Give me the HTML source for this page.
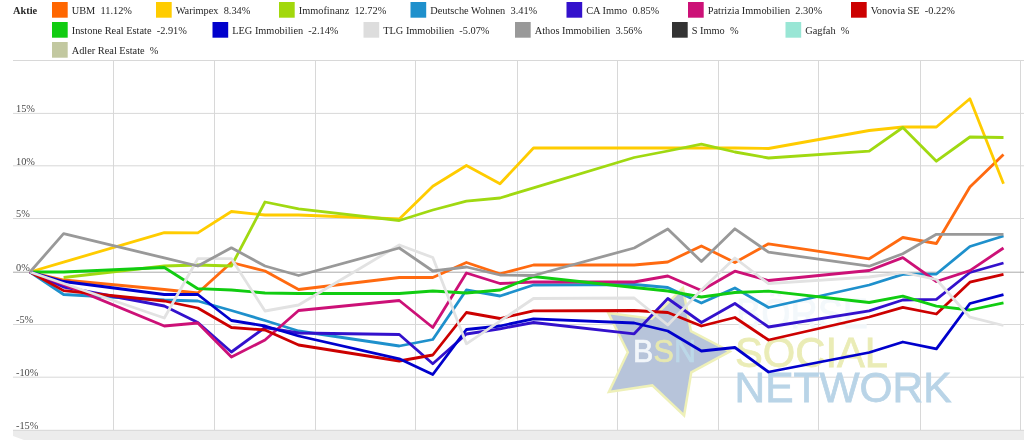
<!DOCTYPE html>
<html><head><meta charset="utf-8"><style>
html,body{margin:0;padding:0;background:#fff;}
body{width:1024px;height:440px;overflow:hidden;font-family:"Liberation Serif",serif;}
svg{display:block;position:absolute;left:0;top:0;will-change:transform;}
.leg text{font-family:"Liberation Serif",serif;font-size:10.35px;fill:#262626;}
.lab text{font-family:"Liberation Serif",serif;font-size:10.35px;fill:#4a4a4a;}
.grid line{stroke:#d8d8d8;stroke-width:1;}
.ser polyline{fill:none;stroke-width:2.8;stroke-linejoin:round;stroke-linecap:butt;}
.wm text{font-family:"Liberation Sans",sans-serif;}
</style></head><body>
<svg width="1024" height="440" viewBox="0 0 1024 440">
<rect width="1024" height="440" fill="#fff"/>
<g class="grid">
<line x1="13" y1="60.5" x2="1024" y2="60.5"/>
<line x1="113.5" y1="60" x2="113.5" y2="440"/><line x1="214.5" y1="60" x2="214.5" y2="440"/><line x1="315.5" y1="60" x2="315.5" y2="440"/><line x1="415.5" y1="60" x2="415.5" y2="440"/><line x1="517.5" y1="60" x2="517.5" y2="440"/><line x1="617.5" y1="60" x2="617.5" y2="440"/><line x1="718.5" y1="60" x2="718.5" y2="440"/><line x1="818.5" y1="60" x2="818.5" y2="440"/><line x1="920.5" y1="60" x2="920.5" y2="440"/><line x1="1020.5" y1="60" x2="1020.5" y2="440"/><line x1="13" y1="113.4" x2="1024" y2="113.4"/><line x1="13" y1="165.8" x2="1024" y2="165.8"/><line x1="13" y1="218.5" x2="1024" y2="218.5"/><line x1="13" y1="324.5" x2="1024" y2="324.5"/><line x1="13" y1="377.2" x2="1024" y2="377.2"/>
<line x1="13" y1="272.2" x2="1024" y2="272.2" style="stroke:#aaa"/>
</g>
<polygon points="13,430 1024,430 1024,440 24,440 13,436" fill="#ececec"/>
<line x1="13" y1="430.3" x2="1024" y2="430.3" stroke="#d8d8d8" stroke-width="1"/>
<g class="wm">
<polygon points="682.9,288.1 690.9,331.2 729.8,351.4 691.3,372.3 684.1,415.5 652.3,385.4 608.9,391.9 627.8,352.3 608.3,313.1 651.7,318.8" fill="#b7c4da" stroke="#eef0b8" stroke-width="2.5" stroke-linejoin="miter"/>
<text x="633" y="361.5" font-size="30.5" fill="#f2f6fa" stroke="#f2f6fa" stroke-width="0.7">B</text>
<text x="653.5" y="361.5" font-size="30.5" fill="#e6e8b0" stroke="#e6e8b0" stroke-width="0.7">S</text>
<text x="674" y="361.5" font-size="30.5" fill="#bcd8e8" stroke="#bcd8e8" stroke-width="0.7">N</text>
<text x="736" y="328" font-size="43.3" fill="#f3f8fb" stroke="#f3f8fb" stroke-width="0.8" textLength="132" lengthAdjust="spacingAndGlyphs">BÖRSE</text>
<text x="735" y="366.5" font-size="43.3" fill="#eaecb6" stroke="#eaecb6" stroke-width="0.8" textLength="153" lengthAdjust="spacingAndGlyphs">SOCIAL</text>
<text x="734.5" y="401.8" font-size="43.3" fill="#b9d4e7" stroke="#b9d4e7" stroke-width="0.8" textLength="217" lengthAdjust="spacingAndGlyphs">NETWORK</text>
</g>
<g class="lab"><text x="16" y="112.1">15%</text><text x="16" y="164.5">10%</text><text x="16" y="217.2">5%</text><text x="16" y="270.9">0%</text><text x="16" y="323.2">-5%</text><text x="16" y="375.9">-10%</text><text x="16" y="428.7">-15%</text></g>
<g class="ser">
<polyline points="30.0,272.0 63.6,280.0 164.3,289.5 197.8,293.0 231.4,262.5 265.0,271.0 298.6,289.5 399.3,277.5 432.8,277.5 466.4,262.5 500.0,273.8 533.5,265.0 634.2,265.0 667.8,262.0 701.4,246.0 734.9,262.5 768.5,243.8 869.2,258.8 902.8,237.5 936.4,243.5 969.9,187.0 1003.5,154.5" stroke="#ff6a10"/>
<polyline points="30.0,272.0 63.6,262.1 164.3,232.6 197.8,232.9 231.4,211.5 265.0,215.0 298.6,215.0 399.3,219.0 432.8,186.2 466.4,165.5 500.0,183.8 533.5,148.0 634.2,148.0 667.8,148.0 701.4,148.0 734.9,148.0 768.5,148.5 869.2,130.5 902.8,127.0 936.4,127.0 969.9,98.8 1003.5,183.8" stroke="#ffcc00"/>
<polyline points="63.6,277.5 164.3,266.0 197.8,265.0 231.4,266.0 265.0,202.0 298.6,208.8 399.3,220.5 432.8,210.0 466.4,201.2 500.0,198.0 533.5,187.8 634.2,157.5 667.8,151.0 701.4,144.2 734.9,152.0 768.5,158.0 869.2,151.2 902.8,127.5 936.4,161.2 969.9,137.0 1003.5,137.5" stroke="#a0d911"/>
<polyline points="30.0,272.0 63.6,294.5 164.3,300.0 197.8,301.0 231.4,310.5 265.0,320.5 298.6,331.0 399.3,346.0 432.8,339.5 466.4,290.0 500.0,296.0 533.5,285.0 634.2,284.5 667.8,287.5 701.4,303.0 734.9,288.0 768.5,307.5 869.2,285.0 902.8,274.4 936.4,274.0 969.9,246.5 1003.5,236.0" stroke="#1e90cc"/>
<polyline points="30.0,272.0 63.6,287.0 164.3,306.0 197.8,322.5 231.4,352.0 265.0,327.5 298.6,333.0 399.3,334.5 432.8,363.8 466.4,334.0 500.0,328.8 533.5,322.5 634.2,333.8 667.8,298.5 701.4,322.5 734.9,303.5 768.5,327.0 869.2,310.8 902.8,300.0 936.4,299.4 969.9,272.5 1003.5,263.0" stroke="#3311cc"/>
<polyline points="30.0,272.0 63.6,284.4 164.3,326.0 197.8,323.0 231.4,357.0 265.0,340.0 298.6,310.5 399.3,300.5 432.8,327.5 466.4,273.0 500.0,283.5 533.5,282.0 634.2,282.0 667.8,276.0 701.4,290.5 734.9,271.2 768.5,280.5 869.2,270.5 902.8,257.6 936.4,281.5 969.9,270.6 1003.5,248.0" stroke="#cc1177"/>
<polyline points="30.0,272.0 63.6,290.6 164.3,301.0 197.8,308.0 231.4,327.5 265.0,330.0 298.6,345.0 399.3,361.0 432.8,355.0 466.4,312.5 500.0,318.5 533.5,310.8 634.2,310.5 667.8,312.5 701.4,326.0 734.9,317.5 768.5,340.0 869.2,317.0 902.8,307.4 936.4,314.0 969.9,282.2 1003.5,274.4" stroke="#cc0000"/>
<polyline points="30.0,272.0 63.6,272.0 164.3,267.5 197.8,288.7 231.4,290.0 265.0,293.0 298.6,293.5 399.3,293.5 432.8,291.0 466.4,293.0 500.0,290.0 533.5,276.5 634.2,287.5 667.8,291.0 701.4,297.0 734.9,292.5 768.5,291.2 869.2,302.5 902.8,296.2 936.4,306.2 969.9,310.0 1003.5,302.8" stroke="#11cc11"/>
<polyline points="30.0,272.0 63.6,281.5 164.3,294.5 197.8,294.5 231.4,320.5 265.0,326.0 298.6,336.0 399.3,358.8 432.8,374.5 466.4,329.5 500.0,326.0 533.5,318.8 634.2,323.0 667.8,331.0 701.4,351.0 734.9,347.5 768.5,372.0 869.2,352.5 902.8,342.0 936.4,348.8 969.9,303.5 1003.5,294.6" stroke="#0000cc"/>
<polyline points="30.0,272.0 63.6,283.5 164.3,318.0 197.8,258.7 231.4,258.7 265.0,311.0 298.6,305.0 399.3,245.0 432.8,257.5 466.4,343.8 500.0,321.2 533.5,298.5 634.2,298.0 667.8,325.0 701.4,290.0 734.9,258.0 768.5,283.6 869.2,277.0 902.8,272.5 936.4,279.5 969.9,317.2 1003.5,325.5" stroke="#e2e2e2" stroke-width="2.4"/>
<polyline points="30.0,272.0 63.6,233.7 164.3,257.9 197.8,266.0 231.4,247.8 265.0,266.0 298.6,275.5 399.3,248.0 432.8,271.0 466.4,267.0 500.0,275.0 533.5,275.5 634.2,248.0 667.8,229.0 701.4,261.5 734.9,228.8 768.5,252.2 869.2,266.2 902.8,253.8 936.4,234.3 969.9,234.3 1003.5,234.4" stroke="#999999"/>
</g>
<g class="leg">
<text x="13" y="14" style="font-weight:bold">Aktie</text>
<rect x="52" y="2" width="15.7" height="15.7" fill="#ff6600"/><text x="71.7" y="13.6" xml:space="preserve">UBM  11.12%</text>
<rect x="156" y="2" width="15.7" height="15.7" fill="#ffcc00"/><text x="175.7" y="13.6" xml:space="preserve">Warimpex  8.34%</text>
<rect x="279" y="2" width="15.7" height="15.7" fill="#a2d80c"/><text x="298.7" y="13.6" xml:space="preserve">Immofinanz  12.72%</text>
<rect x="410.5" y="2" width="15.7" height="15.7" fill="#1e90cc"/><text x="430.2" y="13.6" xml:space="preserve">Deutsche Wohnen  3.41%</text>
<rect x="566.5" y="2" width="15.7" height="15.7" fill="#3311cc"/><text x="586.2" y="13.6" xml:space="preserve">CA Immo  0.85%</text>
<rect x="688" y="2" width="15.7" height="15.7" fill="#cc1177"/><text x="707.7" y="13.6" xml:space="preserve">Patrizia Immobilien  2.30%</text>
<rect x="851" y="2" width="15.7" height="15.7" fill="#cc0000"/><text x="870.7" y="13.6" xml:space="preserve">Vonovia SE  -0.22%</text>
<rect x="52" y="22" width="15.7" height="15.7" fill="#11cc11"/><text x="71.7" y="33.6" xml:space="preserve">Instone Real Estate  -2.91%</text>
<rect x="212.5" y="22" width="15.7" height="15.7" fill="#0000cc"/><text x="232.2" y="33.6" xml:space="preserve">LEG Immobilien  -2.14%</text>
<rect x="363.5" y="22" width="15.7" height="15.7" fill="#dddddd"/><text x="383.2" y="33.6" xml:space="preserve">TLG Immobilien  -5.07%</text>
<rect x="515" y="22" width="15.7" height="15.7" fill="#999999"/><text x="534.7" y="33.6" xml:space="preserve">Athos Immobilien  3.56%</text>
<rect x="672" y="22" width="15.7" height="15.7" fill="#333333"/><text x="691.7" y="33.6" xml:space="preserve">S Immo  %</text>
<rect x="785.5" y="22" width="15.7" height="15.7" fill="#99e6d5"/><text x="805.2" y="33.6" xml:space="preserve">Gagfah  %</text>
<rect x="52" y="42" width="15.7" height="15.7" fill="#c2c8a0"/><text x="71.7" y="53.6" xml:space="preserve">Adler Real Estate  %</text>
</g>
</svg>
</body></html>
